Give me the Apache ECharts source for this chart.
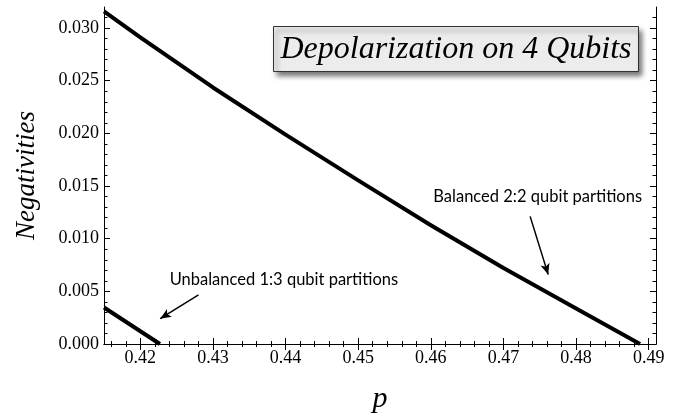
<!DOCTYPE html>
<html>
<head>
<meta charset="utf-8">
<script src="https://cdn.jsdelivr.net/npm/echarts@6/dist/echarts.min.js"></script>
<style>html,body{margin:0;padding:0;background:#fff;}#c{width:691px;height:419px;}</style>
</head>
<body>
<div id="c"></div>
<script>
// ---- data ----
const balancedP = [0.415, 0.420, 0.430, 0.440, 0.450, 0.460, 0.470, 0.480, 0.4888];
const balancedN = [0.03158, 0.02912, 0.02436, 0.01988, 0.01554, 0.01128, 0.00722, 0.00338, 0.0];
const unbalancedP = [0.415, 0.4227];
const unbalancedN = [0.00347, 0.0];

const xMajorTicks = [0.42, 0.43, 0.44, 0.45, 0.46, 0.47, 0.48, 0.49];
const xMinorTicks = [0.416, 0.418, 0.422, 0.424, 0.426, 0.428, 0.432, 0.434, 0.436, 0.438,
  0.442, 0.444, 0.446, 0.448, 0.452, 0.454, 0.456, 0.458, 0.462, 0.464, 0.466, 0.468,
  0.472, 0.474, 0.476, 0.478, 0.482, 0.484, 0.486, 0.488, 0.490];
const yMajorTicks = [0.000, 0.005, 0.010, 0.015, 0.020, 0.025, 0.030];
const yMinorTicks = [0.001, 0.002, 0.003, 0.004, 0.006, 0.007, 0.008, 0.009, 0.011, 0.012,
  0.013, 0.014, 0.016, 0.017, 0.018, 0.019, 0.021, 0.022, 0.023, 0.024, 0.026, 0.027,
  0.028, 0.029, 0.031];

const titleText = 'Depolarization on 4 Qubits';
const xName = 'p';
const yName = 'Negativities';
const balancedLabel = 'Balanced 2:2 qubit partitions';
const unbalancedLabel = 'Unbalanced 1:3 qubit partitions';
// annotation anchors in data coordinates
const balancedLabelAt = [0.47471, 0.01397];
const balancedArrow = [[0.47367, 0.01212], [0.47616, 0.00659]];
const unbalancedLabelAt = [0.43977, 0.00610];
const unbalancedArrow = [[0.42801, 0.00467], [0.42273, 0.00240]];

const X_MIN = 0.415, X_MAX = 0.491, Y_MIN = 0, Y_MAX = 0.032;

const serif = '"Liberation Serif", "DejaVu Serif", serif';
const sans = 'Lato, "Open Sans", sans-serif';

function xAx(position, ticks, len, showLabel, showLine) {
  return {
    type: 'value', position: position, min: X_MIN, max: X_MAX,
    name: (showLabel ? xName : ''), nameLocation: 'middle', nameGap: 40,
    nameTextStyle: {fontFamily: serif, fontStyle: 'italic', fontSize: 30, color: '#000'},
    axisLine: {show: showLine, lineStyle: {color: '#000', width: 1}},
    axisTick: {show: true, inside: true, length: len, customValues: ticks, lineStyle: {color: '#000', width: 1}},
    axisLabel: {show: showLabel, customValues: ticks, margin: 5, color: '#000',
      fontFamily: serif, fontSize: 18, formatter: v => v.toFixed(2)},
    splitLine: {show: false}
  };
}
function yAx(position, ticks, len, showLabel, showLine) {
  return {
    type: 'value', position: position, min: Y_MIN, max: Y_MAX,
    name: (showLabel ? yName : ''), nameLocation: 'middle', nameGap: 64,
    nameTextStyle: {fontFamily: serif, fontStyle: 'italic', fontSize: 27, color: '#000'},
    axisLine: {show: showLine, lineStyle: {color: '#000', width: 1}},
    axisTick: {show: true, inside: true, length: len, customValues: ticks, lineStyle: {color: '#000', width: 1}},
    axisLabel: {show: showLabel, customValues: ticks, margin: 5, color: '#000',
      fontFamily: serif, fontSize: 18, formatter: v => v.toFixed(3)},
    splitLine: {show: false}
  };
}

const chart = echarts.init(document.getElementById('c'), null, {renderer: 'canvas'});
chart.setOption({
  animation: false,
  backgroundColor: '#fff',
  grid: {left: 104, right: 35, top: 7, bottom: 71, containLabel: false},
  xAxis: [
    xAx('bottom', xMajorTicks, 6, true, true),
    xAx('bottom', xMinorTicks, 3, false, false),
    xAx('top', xMajorTicks, 6, false, true),
    xAx('top', xMinorTicks, 3, false, false)
  ],
  yAxis: [
    yAx('left', yMajorTicks, 6, true, true),
    yAx('left', yMinorTicks, 3.5, false, false),
    yAx('right', yMajorTicks, 6, false, true),
    yAx('right', yMinorTicks, 3.5, false, false)
  ],
  series: [
    {
      type: 'line', xAxisIndex: 0, yAxisIndex: 0, smooth: false, symbol: 'none',
      data: balancedP.map((p, i) => [p, balancedN[i]]),
      lineStyle: {color: '#000', width: 4, join: 'round'},
      markLine: {
        silent: true, animation: false, symbol: ['none', 'arrow'], symbolSize: [7, 11],
        lineStyle: {color: '#000', width: 1.5, type: 'solid'}, label: {show: false},
        data: [[{coord: balancedArrow[0]}, {coord: balancedArrow[1]}]]
      },
      markPoint: {
        silent: true, symbol: 'circle', symbolSize: 0,
        label: {show: true, position: 'inside', formatter: balancedLabel, color: '#000',
          fontFamily: sans, fontSize: 16.5},
        data: [{coord: balancedLabelAt}]
      }
    },
    {
      type: 'line', xAxisIndex: 0, yAxisIndex: 0, symbol: 'none',
      data: unbalancedP.map((p, i) => [p, unbalancedN[i]]),
      lineStyle: {color: '#000', width: 4},
      markLine: {
        silent: true, animation: false, symbol: ['none', 'arrow'], symbolSize: [7, 11],
        lineStyle: {color: '#000', width: 1.5, type: 'solid'}, label: {show: false},
        data: [[{coord: unbalancedArrow[0]}, {coord: unbalancedArrow[1]}]]
      },
      markPoint: {
        silent: true, symbol: 'circle', symbolSize: 0,
        label: {show: true, position: 'inside', formatter: unbalancedLabel, color: '#000',
          fontFamily: sans, fontSize: 16.5},
        data: [{coord: unbalancedLabelAt}]
      }
    }
  ],
  graphic: [
    {
      type: 'group', left: 273, top: 26,
      children: [
        {type: 'rect', shape: {x: 0, y: 0, width: 365, height: 45},
          style: {fill: '#ececec', stroke: '#333', lineWidth: 1,
            shadowBlur: 5, shadowOffsetX: 3, shadowOffsetY: 4, shadowColor: 'rgba(0,0,0,0.55)'}},
        {type: 'text', x: 182.5, y: 23,
          style: {text: titleText, fill: '#000', font: 'italic 32px ' + serif,
            textAlign: 'center', textVerticalAlign: 'middle'}}
      ]
    }
  ]
});
</script>
</body>
</html>
